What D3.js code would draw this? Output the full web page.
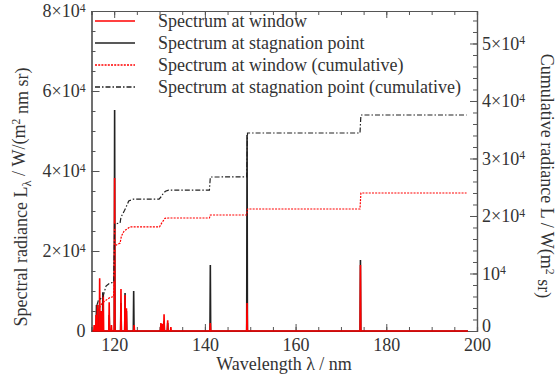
<!DOCTYPE html>
<html><head><meta charset="utf-8">
<script src="https://cdn.jsdelivr.net/npm/d3@7"></script>
<style>
body{margin:0;background:#fff;}
svg text{font-family:"Liberation Serif","Times New Roman",serif;fill:#333;}
</style></head>
<body><svg id="c" width="557" height="392"></svg>
<script>
// ---- data ----
const stagLam = [115.7,116.1,116.4,117.5,118.9,120.1,121.5,122.4,122.7,124.3,130.3,131.0,131.8,141.2,149.3,174.3];
const stagVal = [1500,6500,6500,9700,4000,55250,7000,9500,5000,10000,1500,2500,2000,16500,49000,17750];
const winLam = [115.6,116.0,116.3,116.8,117.2,117.6,118.9,119.4,120.1,121.5,122.4,122.7,124.4,130.3,130.6,131.0,131.8,132.5,141.2,149.3,174.3];
const winVal = [1500,4000,6500,13200,5000,9000,7200,1500,38250,10500,9000,5700,1500,2000,1800,4200,2700,1000,2000,7000,16500];
const cumStagLam = [116.2,116.5,117.0,117.5,118.2,119.0,119.9,120.1,121.3,121.5,122.3,122.6,123.2,124.3,129.9,130.3,130.8,131.3,132.0,141.0,141.2,149.2,149.4,174.2,174.4,197.7];
const cumStagVal = [4500,5300,5600,5900,7800,8300,8500,18600,18800,19800,21000,21500,22600,22950,22950,23300,23900,24300,24500,24500,26780,26800,34430,34430,37560,37560];
const cumWinLam = [116.0,116.5,117.0,117.6,119.0,119.9,120.1,121.3,121.6,122.2,123.5,130.0,130.5,131.2,132.0,141.0,141.2,149.2,149.4,174.2,174.4,197.7];
const cumWinVal = [2500,3500,4500,5000,5800,6000,14800,15300,16500,17400,18100,18100,18800,19600,19650,19650,20170,20170,21220,21220,24000,24000];
const xMajor = [120,140,160,180,200];
const yLeftMajor = [0,20000,40000,60000,80000];
const yLeftLabels = ["0","2×10|4","4×10|4","6×10|4","8×10|4"];
const yRightMajor = [0,10000,20000,30000,40000,50000];
const yRightLabels = ["0","10|4","2×10|4","3×10|4","4×10|4","5×10|4"];
const legendNames = ["Spectrum at window","Spectrum at stagnation point","Spectrum at window (cumulative)","Spectrum at stagnation point (cumulative)"];

// ---- layout ----
const L=91.5, R=477, T=11, B=331;
const FF='"Liberation Serif","Times New Roman",serif';
const svg=d3.select("#c");
const x=d3.scaleLinear().domain([115,200]).range([L,R]);
const yL=d3.scaleLinear().domain([0,80000]).range([B,T]);
const yR=d3.scaleLinear().domain([0,55650]).range([B,T]);
const axisCol="#555", fs=18;

function supLabel(sel, labels, vals){
  sel.selectAll(".tick text").each(function(d){
    const i=vals.indexOf(d); const t=d3.select(this); t.text(null);
    const parts=labels[i].split("|");
    t.append("tspan").text(parts[0]);
    if(parts[1]) t.append("tspan").attr("dy","-0.45em").attr("font-size","0.65em").text(parts[1]);
  });
}
function styleAxis(g){
  g.attr("font-family",FF);
  g.select(".domain").attr("stroke",axisCol).attr("stroke-width",1.2);
  g.selectAll(".tick line").attr("stroke",axisCol).attr("stroke-width",1);
  g.selectAll("text").attr("font-size",fs).attr("fill","#333").style("font-family",FF);
}
// minor ticks
const xMinor=d3.range(115,201,5), yLMinor=d3.range(0,80001,5000), yRMinor=d3.range(0,55001,2000);
svg.append("g").attr("transform",`translate(0,${B})`).call(d3.axisBottom(x).tickValues(xMinor).tickSize(-4).tickFormat("")).call(styleAxis);
svg.append("g").attr("transform",`translate(0,${T})`).call(d3.axisTop(x).tickValues(xMinor).tickSize(-4).tickFormat("")).call(styleAxis);
svg.append("g").attr("transform",`translate(${L},0)`).call(d3.axisLeft(yL).tickValues(yLMinor).tickSize(-4).tickFormat("")).call(styleAxis);
svg.append("g").attr("transform",`translate(${R},0)`).call(d3.axisRight(yR).tickValues(yRMinor).tickSize(-4).tickFormat("")).call(styleAxis);
// major
svg.append("g").attr("transform",`translate(0,${B})`).call(d3.axisBottom(x).tickValues(xMajor).tickSizeInner(-7).tickSizeOuter(0).tickPadding(7).tickFormat(d3.format("d"))).call(styleAxis);
svg.append("g").attr("transform",`translate(0,${T})`).call(d3.axisTop(x).tickValues(xMajor).tickSizeInner(-7).tickSizeOuter(0).tickFormat("")).call(styleAxis);
const gl=svg.append("g").attr("transform",`translate(${L},0)`).call(d3.axisLeft(yL).tickValues(yLeftMajor).tickSizeInner(-8).tickSizeOuter(0).tickPadding(6)).call(styleAxis);
supLabel(gl,yLeftLabels,yLeftMajor);
const gr=svg.append("g").attr("transform",`translate(${R},0)`).call(d3.axisRight(yR).tickValues(yRightMajor).tickSizeInner(-7).tickSizeOuter(0).tickPadding(5)).call(styleAxis);
supLabel(gr,yRightLabels,yRightMajor);
gr.selectAll(".tick").filter(d=>d===0).select("text").attr("dy","0.05em");

// ---- spectra ----
function spikePts(lams, vals){
  const pts=[[115.2,0]];
  lams.forEach((l,i)=>{pts.push([l-0.08,0],[l,vals[i]],[l+0.08,0]);});
  pts.push([198,0]); return pts;
}
const lineL=d3.line().x(d=>x(d[0])).y(d=>yL(d[1]));
const lineR=d3.line().x(d=>x(d[0])).y(d=>yR(d[1]));
svg.append("path").attr("d",lineL(spikePts(stagLam,stagVal))).attr("fill","none").attr("stroke","#222").attr("stroke-width",1.6);
svg.append("path").attr("d",lineL(spikePts(winLam,winVal))).attr("fill","none").attr("stroke","#f00").attr("stroke-width",1.6);
svg.append("path").attr("d",lineR(cumWinLam.map((l,i)=>[l,cumWinVal[i]]))).attr("fill","none").attr("stroke","#f00").attr("stroke-width",1.2).attr("stroke-dasharray","2,1.2");
svg.append("path").attr("d",lineR(cumStagLam.map((l,i)=>[l,cumStagVal[i]]))).attr("fill","none").attr("stroke","#222").attr("stroke-width",1.2).attr("stroke-dasharray","5,2,1.5,2");

// ---- legend ----
const legY=[21,43,65,87];
const legStyle=[{c:"#f00",d:null},{c:"#222",d:null},{c:"#f00",d:"2,1.2"},{c:"#222",d:"5,2,1.5,2"}];
legendNames.forEach((n,i)=>{
  svg.append("line").attr("x1",95).attr("x2",135).attr("y1",legY[i]).attr("y2",legY[i])
    .attr("stroke",legStyle[i].c).attr("stroke-width",1.4).attr("stroke-dasharray",legStyle[i].d);
  svg.append("text").attr("x",158).attr("y",legY[i]).attr("dy","0.33em").attr("font-size",fs).style("font-family",FF).text(n);
});

// ---- titles ----
svg.append("text").attr("x",284).attr("y",370).attr("text-anchor","middle").attr("font-size",18).style("font-family",FF).text("Wavelength λ / nm");
const tl=svg.append("text").attr("transform","translate(27,197) rotate(-90)").attr("text-anchor","middle").attr("font-size",18).style("font-family",FF);
tl.append("tspan").text("Spectral radiance L");
tl.append("tspan").attr("dy","0.3em").attr("font-size","0.7em").text("λ");
tl.append("tspan").attr("dy","-0.3em").text(" / W/(m");
tl.append("tspan").attr("dy","-0.45em").attr("font-size","0.65em").text("2");
tl.append("tspan").attr("dy","0.45em").text(" nm sr)");
const tr=svg.append("text").attr("transform","translate(541,176) rotate(90)").attr("text-anchor","middle").attr("font-size",18).style("font-family",FF);
tr.append("tspan").text("Cumulative radiance L / W(m");
tr.append("tspan").attr("dy","-0.45em").attr("font-size","0.65em").text("2");
tr.append("tspan").attr("dy","0.45em").text(" sr)");
</script></body></html>
